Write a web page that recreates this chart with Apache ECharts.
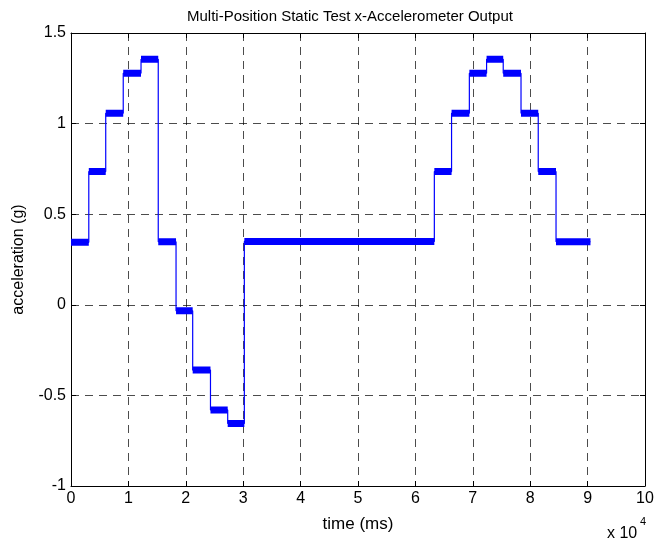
<!DOCTYPE html>
<html>
<head>
<meta charset="utf-8">
<script src="https://cdn.jsdelivr.net/npm/echarts@6/dist/echarts.min.js"></script>
<style>html,body{margin:0;padding:0;background:#fff}#c{width:662px;height:546px}</style>
</head>
<body>
<div id="c"></div>
<script>
// Segment boundaries (ms) and level (g) held on each segment
const boundaries = [0, 3100, 6050, 9100, 12200, 15200, 18300, 21200, 24300, 27300, 30200,
                    63300, 66300, 69400, 72400, 75300, 78400, 81400, 84500, 90500];
const levels = [0.345, 0.735, 1.057, 1.278, 1.355, 0.348, -0.033, -0.36, -0.58, -0.655,
                0.350, 0.735, 1.057, 1.278, 1.355, 1.278, 1.057, 0.735, 0.348];
const xTicks = [0, 1, 2, 3, 4, 5, 6, 7, 8, 9, 10];
const yTicks = [-1, -0.5, 0, 0.5, 1, 1.5];

const stepLine = [];
const plateaus = [];
for (let i = 0; i < levels.length; i++) {
  stepLine.push([boundaries[i], levels[i]], [boundaries[i + 1], levels[i]]);
  plateaus.push([boundaries[i], levels[i]], [boundaries[i + 1], levels[i]], [boundaries[i + 1], null]);
}

const font = 'Liberation Sans, Arial, sans-serif';
const chart = echarts.init(document.getElementById('c'), null, {renderer: 'canvas'});
const gridLine = {show: true, lineStyle: {color: '#000', type: [8, 6], width: 1, opacity: 0.7}};
chart.setOption({
  animation: false,
  backgroundColor: '#fff',
  title: {
    text: 'Multi-Position Static Test x-Accelerometer Output',
    left: 182, top: 4,
    textStyle: {fontFamily: font, fontSize: 15, fontWeight: 'normal', color: '#000'}
  },
  grid: {left: 71, right: 17, top: 33, bottom: 60},
  xAxis: [{
    type: 'value', min: 0, max: 100000, interval: 10000,
    name: 'time (ms)', nameLocation: 'middle', nameGap: 30,
    nameTextStyle: {fontFamily: font, fontSize: 17, color: '#000'},
    axisLine: {show: true, onZero: false, lineStyle: {color: '#000', width: 1}},
    axisTick: {show: true, inside: true, length: 5, lineStyle: {color: '#000'}},
    axisLabel: {fontFamily: font, fontSize: 16, color: '#000', margin: 5,
      formatter: v => String(xTicks[Math.round(v / 10000)])},
    splitLine: gridLine
  }, {
    type: 'value', position: 'top', min: 0, max: 100000, interval: 10000,
    axisLine: {show: true, onZero: false, lineStyle: {color: '#000', width: 1}},
    axisTick: {show: true, inside: true, length: 5, lineStyle: {color: '#000'}},
    axisLabel: {show: false}, splitLine: {show: false}
  }],
  yAxis: [{
    type: 'value', min: -1, max: 1.5, interval: 0.5,
    name: 'acceleration (g)', nameLocation: 'middle', nameGap: 44,
    nameTextStyle: {fontFamily: font, fontSize: 16, color: '#000'},
    axisLine: {show: true, onZero: false, lineStyle: {color: '#000', width: 1}},
    axisTick: {show: true, inside: true, length: 5, lineStyle: {color: '#000'}},
    axisLabel: {fontFamily: font, fontSize: 16, color: '#000', margin: 5,
      formatter: v => { const t = yTicks.find(y => Math.abs(y - v) < 1e-9); return t === undefined ? '' : String(t); }},
    splitLine: gridLine
  }, {
    type: 'value', position: 'right', min: -1, max: 1.5, interval: 0.5,
    axisLine: {show: true, onZero: false, lineStyle: {color: '#000', width: 1}},
    axisTick: {show: true, inside: true, length: 5, lineStyle: {color: '#000'}},
    axisLabel: {show: false}, splitLine: {show: false}
  }],
  graphic: [{
    type: 'text', left: 607, top: 526,
    style: {text: 'x 10', fontFamily: font, fontSize: 16, fill: '#000'}
  }, {
    type: 'text', left: 640, top: 516,
    style: {text: '4', fontFamily: font, fontSize: 11, fill: '#000'}
  }],
  series: [{
    type: 'line', data: stepLine, symbol: 'none', silent: true,
    lineStyle: {color: '#0000ff', width: 1.2}
  }, {
    type: 'line', data: plateaus, symbol: 'none', silent: true, connectNulls: false,
    lineStyle: {color: '#0000ff', width: 7}
  }]
});
</script>
</body>
</html>
